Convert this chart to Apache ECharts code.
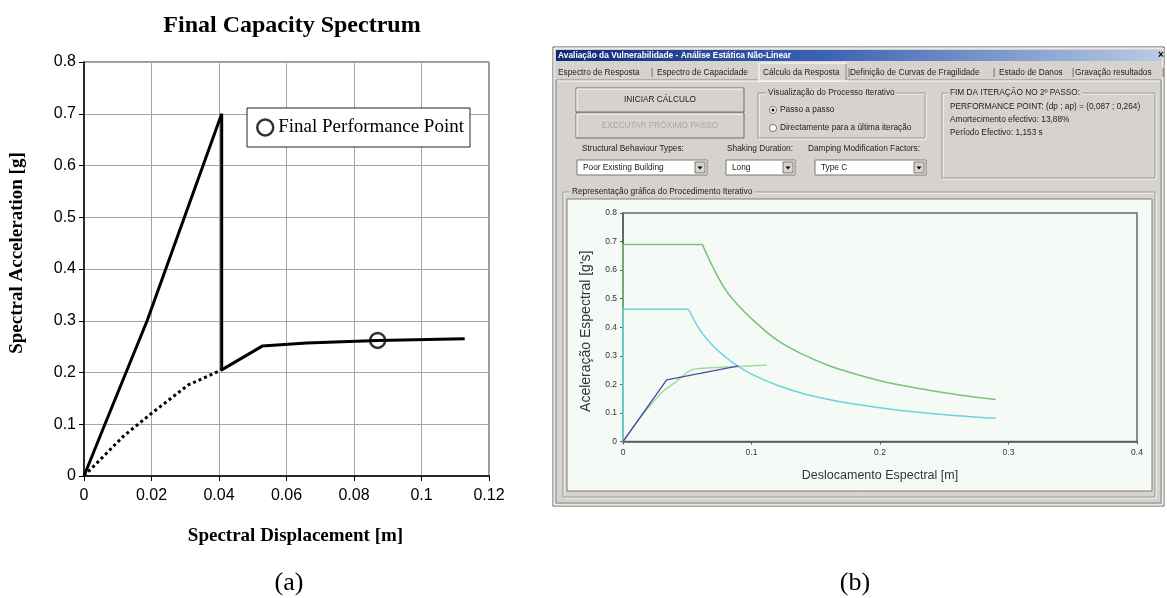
<!DOCTYPE html>
<html><head><meta charset="utf-8">
<script src="https://cdn.jsdelivr.net/npm/echarts@6/dist/echarts.min.js"></script>
<style>html,body{margin:0;padding:0;background:#fff}#c{width:1167px;height:598px}</style>
</head><body><div id="c"></div>
<script>
// ---------- Panel (a) data ----------
const elasticBranch = [[0,0],[0.0062,0.1],[0.0187,0.3],[0.0408,0.70],[0.0408,0.205]];
const capacityBranch = [[0.0408,0.205],[0.0528,0.251],[0.066,0.257],[0.087,0.262],[0.1128,0.265]];
const initialBranch = [[0,0],[0.0117,0.077],[0.02,0.121],[0.0309,0.176],[0.0408,0.205]];
const performancePoint = [[0.087,0.262]];
// ---------- Panel (b) data ----------
const demandGreenPlateau = [[0,0],[0,0.69],[0.0617,0.69]];
const demandGreenBranch = [[0.0617,0.69],[0.07,0.61],[0.08,0.53],[0.09,0.475],[0.1,0.43],[0.12,0.355],[0.14,0.305],[0.16,0.266],[0.18,0.237],[0.2,0.213],[0.22,0.194],[0.24,0.178],[0.26,0.164],[0.29,0.147]];
const demandCyanPlateau = [[0,0],[0,0.463],[0.051,0.463]];
const demandCyanBranch = [[0.051,0.463],[0.06,0.39],[0.07,0.335],[0.08,0.295],[0.09,0.262],[0.1,0.236],[0.12,0.197],[0.14,0.168],[0.16,0.147],[0.18,0.131],[0.2,0.118],[0.22,0.107],[0.24,0.098],[0.26,0.09],[0.29,0.081]];
const capacityB = [[0,0],[0.012,0.075],[0.02,0.12],[0.031,0.175],[0.04,0.205],[0.053,0.25],[0.066,0.257],[0.087,0.262],[0.112,0.268]];
const bilinearB = [[0,0],[0.034,0.216],[0.09,0.265]];
// ---------- Texts ----------
const windowTitle = 'Avaliação da Vulnerabilidade - Análise Estática Não-Linear';
const tabLabels = ['Espectro de Resposta','Espectro de Capacidade','Cálculo da Resposta','Definição de Curvas de Fragilidade','Estado de Danos','Gravação resultados'];
const resultLines = ['PERFORMANCE POINT: (dp ; ap) = (0,087 ; 0,264)','Amortecimento efectivo: 13,88%','Período Efectivo: 1,153 s'];

const SANS = '"Liberation Sans", Arial, sans-serif';
const SERIF = '"Liberation Serif", "Times New Roman", serif';
const GRAY = '#d6d3ce';

function T(x,y,text,opt){return {type:'text',x:x,y:y,z:5,silent:true,style:Object.assign({text:text,fill:'#222',font:'8.3px '+SANS,align:'left',verticalAlign:'middle'},opt||{})};}
function R(x,y,w,h,style,z){return {type:'rect',shape:{x:x,y:y,width:w,height:h},style:style,z:(z===undefined?-3:z),silent:true};}
function L(x1,y1,x2,y2,stroke,z){return {type:'line',shape:{x1:x1,y1:y1,x2:x2,y2:y2},style:{stroke:stroke,lineWidth:1},z:(z===undefined?-2:z),silent:true};}
function groupBox(x,y,w,h,title,tx){
  return [R(x+1,y+1,w,h,{fill:'none',stroke:'#fff',lineWidth:1},-2),R(x,y,w,h,{fill:'none',stroke:'#9a9891',lineWidth:1},-2),
          T(tx,y,title,{backgroundColor:GRAY,padding:[0,2]})];
}
function button(x,y,w,h,text,color){
  return [R(x,y,w,h,{fill:GRAY,stroke:'#6f6d68',lineWidth:1},-2),L(x+1,y+1,x+w-1,y+1,'#fff'),L(x+1,y+1,x+1,y+h-1,'#fff'),
          T(x+w/2,y+h/2,text,{align:'center',fill:color})];
}
function combo(x,y,w,text){
  return [R(x,y,w,15,{fill:'#fff',stroke:'#7a7872',lineWidth:1},-2),T(x+6,y+7.5,text),
          R(x+w-12,y+2,10,11,{fill:GRAY,stroke:'#7a7872',lineWidth:1},-1),
          {type:'polygon',z:4,silent:true,shape:{points:[[x+w-9.5,y+6.5],[x+w-4.5,y+6.5],[x+w-7,y+9.5]]},style:{fill:'#000'}}];
}
function radio(cx,cy,text,checked){
  const a=[{type:'circle',z:3,silent:true,shape:{cx:cx,cy:cy,r:3.6},style:{fill:'#fff',stroke:'#7a7872',lineWidth:1}},T(cx+7,cy,text)];
  if(checked)a.push({type:'circle',z:4,silent:true,shape:{cx:cx,cy:cy,r:1.5},style:{fill:'#000'}});
  return a;
}

let g = [];
// window frame
g.push(R(553,47,611,459,{fill:GRAY,stroke:'#555',lineWidth:1},-4));
g.push(R(554,48,609,457,{fill:'none',stroke:'#fff',lineWidth:1},-3));
g.push(R(556,50,605,11,{fill:new echarts.graphic.LinearGradient(0,0,1,0,[{offset:0,color:'#0c2a78'},{offset:0.45,color:'#3d63b3'},{offset:1,color:'#b9cbe4'}])},-2));
g.push(T(558,55.7,windowTitle,{fill:'#fff',font:'bold 8.4px '+SANS}));
g.push(T(1161,55.5,'×',{fill:'#000',font:'bold 10px '+SANS,align:'center'}));
// tab body
g.push(R(556,80,605,423,{fill:GRAY,stroke:'#8a8882',lineWidth:1},-3));
g.push(L(557,81,1160,81,'#fff'));
g.push(R(759,63,87,18,{fill:GRAY,stroke:'#fff',lineWidth:1},-2));
g.push(L(846,64,846,80,'#777'));
const tabX=[558,657,763,850,999,1075], sepX=[651,848,993,1072,1162];
tabLabels.forEach((t,i)=>g.push(T(tabX[i],72.5,t)));
sepX.forEach(x=>g.push(T(x,72.5,'|',{fill:'#444'})));
// buttons
g = g.concat(button(576,88,168,24,'INICIAR CÁLCULO','#222'));
g = g.concat(button(576,113,168,25,'EXECUTAR PRÓXIMO PASSO','#a9a7a2'));
// group: visualization
g = g.concat(groupBox(758,93,167,45,'Visualização do Processo Iterativo',766));
g = g.concat(radio(773,110,'Passo a passo',true));
g = g.concat(radio(773,128,'Directamente para a última iteração',false));
// group: results
g = g.concat(groupBox(942,93,213,85,'FIM DA ITERAÇÃO NO 2º PASSO:',948));
resultLines.forEach((t,i)=>g.push(T(950,107+i*13,t)));
// combos
g.push(T(582,149,'Structural Behaviour Types:'));
g.push(T(727,149,'Shaking Duration:'));
g.push(T(808,149,'Damping Modification Factors:'));
g = g.concat(combo(577,160,130,'Poor Existing Building'));
g = g.concat(combo(726,160,69,'Long'));
g = g.concat(combo(815,160,111,'Type C'));
// chart group
g = g.concat(groupBox(563,192,592,305,'Representação gráfica do Procedimento Iterativo',570));
g.push(R(567,199,585,292,{fill:'#f6faf6',stroke:'#7c7c7c',lineWidth:1},-1));
// panel captions
g.push(T(289,583,'(a)',{font:'26px '+SERIF,fill:'#000',align:'center'}));
g.push(T(855,583,'(b)',{font:'26px '+SERIF,fill:'#000',align:'center'}));

const chart = echarts.init(document.getElementById('c'), null, {renderer:'canvas'});
const axA = {fontFamily:SANS,fontSize:16,color:'#000'};
const axB = {fontFamily:SANS,fontSize:8.5,color:'#333'};
function lineB(data,color,width,smooth){return {type:'line',xAxisIndex:1,yAxisIndex:1,data:data,symbol:'none',smooth:smooth||false,lineStyle:{color:color,width:width},z:3};}
chart.setOption({
  animation:false,
  backgroundColor:'#fff',
  title:[{text:'Final Capacity Spectrum',left:287,top:9,textAlign:'center',textStyle:{fontFamily:SERIF,fontWeight:'bold',fontSize:24,color:'#000'}}],
  legend:{show:true,selectedMode:false,left:247,top:108,padding:[10,6,10,9],itemWidth:16,itemHeight:16,backgroundColor:'#fff',borderColor:'#222',borderWidth:1,
    data:[{name:'Final Performance Point',icon:'circle',itemStyle:{color:'#fff',borderColor:'#000',borderWidth:2.5}}],
    textStyle:{fontFamily:SERIF,fontSize:19,color:'#000',lineHeight:19}},
  grid:[
    {left:84,top:62,width:405,height:414,show:true,borderColor:'#333',borderWidth:1,backgroundColor:'transparent',outerBoundsMode:'none',containLabel:false},
    {left:623,top:213,width:514,height:228.5,show:true,borderColor:'#6a6a6a',borderWidth:1.5,backgroundColor:'transparent',outerBoundsMode:'none',containLabel:false}
  ],
  xAxis:[
    {gridIndex:0,type:'value',min:0,max:0.12,interval:0.02,
     axisLine:{show:true,onZero:false,lineStyle:{color:'#000',width:1.5}},axisTick:{show:true,length:5,lineStyle:{color:'#000'}},
     axisLabel:Object.assign({margin:12},axA),splitLine:{show:true,lineStyle:{color:'#a6a6a6',width:1}},
     name:'Spectral Displacement [m]',nameLocation:'middle',nameGap:51,nameMoveOverlap:false,
     nameTextStyle:{fontFamily:SERIF,fontWeight:'bold',fontSize:19,color:'#000',padding:[0,0,0,18]}},
    {gridIndex:1,type:'value',min:0,max:0.4,interval:0.1,
     axisLine:{show:true,onZero:false,lineStyle:{color:'#5a5a5a',width:1.5}},axisTick:{show:true,length:3,lineStyle:{color:'#5a5a5a'}},
     axisLabel:Object.assign({margin:7},axB),splitLine:{show:false},
     name:'Deslocamento Espectral [m]',nameLocation:'middle',nameGap:28,nameMoveOverlap:false,
     nameTextStyle:{fontFamily:SANS,fontSize:12.5,color:'#333'}}
  ],
  yAxis:[
    {gridIndex:0,type:'value',min:0,max:0.8,interval:0.1,
     axisLine:{show:true,onZero:false,lineStyle:{color:'#000',width:1.5}},axisTick:{show:true,length:5,lineStyle:{color:'#000'}},
     axisLabel:Object.assign({margin:8},axA),splitLine:{show:true,lineStyle:{color:'#a6a6a6',width:1}},
     name:'Spectral Acceleration [g]',nameLocation:'middle',nameGap:57,nameMoveOverlap:false,
     nameTextStyle:{fontFamily:SERIF,fontWeight:'bold',fontSize:19,color:'#000',padding:[0,0,0,32]}},
    {gridIndex:1,type:'value',min:0,max:0.8,interval:0.1,
     axisLine:{show:true,onZero:false,lineStyle:{color:'#5a5a5a',width:1.5}},axisTick:{show:true,length:3,lineStyle:{color:'#5a5a5a'}},
     axisLabel:Object.assign({margin:6},axB),splitLine:{show:false},
     name:"Aceleração Espectral [g's]",nameLocation:'middle',nameGap:30,nameMoveOverlap:false,
     nameTextStyle:{fontFamily:SANS,fontSize:14,color:'#333',padding:[0,8,0,0]}}
  ],
  graphic:{elements:g},
  series:[
    {type:'line',name:'elastic',xAxisIndex:0,yAxisIndex:0,data:elasticBranch,symbol:'none',lineStyle:{color:'#000',width:3},z:3},
    {type:'line',name:'capacity',xAxisIndex:0,yAxisIndex:0,data:capacityBranch,symbol:'none',lineStyle:{color:'#000',width:3},z:3},
    {type:'line',name:'initial',xAxisIndex:0,yAxisIndex:0,data:initialBranch,symbol:'none',lineStyle:{color:'#000',width:3,type:[3,3]},z:3},
    {type:'scatter',name:'Final Performance Point',xAxisIndex:0,yAxisIndex:0,data:performancePoint,symbol:'circle',symbolSize:15,
     itemStyle:{color:'rgba(255,255,255,0)',borderColor:'#000',borderWidth:2.5},z:4},
    lineB(demandGreenPlateau,'#79c279',1.5),
    lineB(demandGreenBranch,'#79c279',1.5,0.4),
    lineB(demandCyanPlateau,'#6cd2db',1.5),
    lineB(demandCyanBranch,'#6cd2db',1.5,0.4),
    lineB(capacityB,'#9fdb9c',1.5,0.3),
    lineB(bilinearB,'#4b4ba6',1.3)
  ]
});
</script></body></html>
